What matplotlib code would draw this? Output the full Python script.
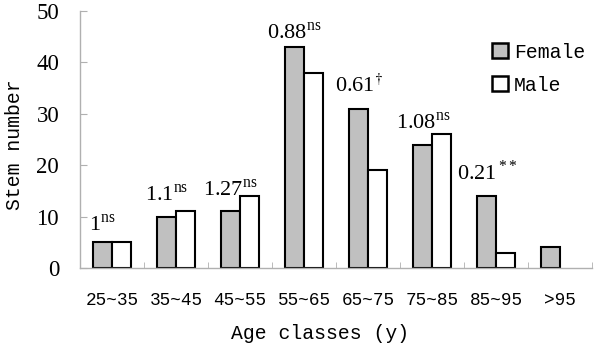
import matplotlib
matplotlib.use("Agg")
import matplotlib.pyplot as plt
import numpy as np

categories = ["25~35", "35~45", "45~55", "55~65", "65~75", "75~85", "85~95", ">95"]
female = [5, 10, 11, 43, 31, 24, 14, 4]
male = [5, 11, 14, 38, 19, 26, 3, 0]
ratio_labels = ["1", "1.1", "1.27", "0.88", "0.61", "1.08", "0.21"]
ratio_sig = ["ns", "ns", "ns", "ns", "\u2020", "ns", "**"]
label_y = [7.4, 13.2, 14.2, 44.7, 34.2, 27.2, 17.1]

mono = "Liberation Mono"
serif = "Liberation Serif"

fig = plt.figure(figsize=(6.0, 3.44), dpi=100)
ax = fig.add_axes([0.1333, 0.221, 0.8534, 0.747])

x = np.arange(len(categories))
w = 0.29
ax.bar(x - w / 2, female, w, color="#c0c0c0", edgecolor="black", linewidth=1.5, label="Female")
male_x = [xi + w / 2 for xi, m in zip(x, male) if m > 0]
male_v = [m for m in male if m > 0]
ax.bar(male_x, male_v, w, color="white", edgecolor="black", linewidth=1.5, label="Male")

ax.set_xlim(-0.5, len(categories) - 0.5)
ax.set_ylim(0, 50)
ax.set_yticks([0, 10, 20, 30, 40, 50])
ax.set_xticks(x)
ax.set_xticklabels(categories, fontfamily=mono, fontsize=12.8)
ax.set_xticks(np.arange(-0.5, len(categories) + 0.5, 1), minor=True)
ax.tick_params(axis="x", which="major", length=0, pad=17)
ax.tick_params(axis="x", which="minor", direction="in", length=4, color="#b0b0b0")
ax.tick_params(axis="y", direction="in", length=5, color="#b0b0b0", pad=15,
               labelfontfamily=serif, labelsize=16.5)

for s in ["top", "right"]:
    ax.spines[s].set_visible(False)
for s in ["left", "bottom"]:
    ax.spines[s].set_color("#b0b0b0")
    ax.spines[s].set_linewidth(1.0)

ax.set_xlabel("Age classes (y)", fontfamily=mono, fontsize=14.2)
ax.set_ylabel("Stem number", fontfamily=mono, fontsize=14.2, labelpad=9)
ax.xaxis.set_label_coords(0.469, -0.218)
ax.yaxis.label.set_y(0.479)

for i, (t, s, yy) in enumerate(zip(ratio_labels, ratio_sig, label_y)):
    if s == "**":
        txt = r"$\mathregular{" + t + r"}^{\,\mathregular{**}}$"
    elif s == "\u2020":
        txt = r"$\mathregular{" + t + r"}^{\dagger}$"
    else:
        txt = r"$\mathregular{" + t + r"}^{\mathregular{ns}}$"
    ax.text(x[i] - w / 2, yy, txt, ha="center", va="baseline",
            fontfamily=serif, fontsize=16, math_fontfamily="stix")

leg = ax.legend(loc="upper left", bbox_to_anchor=(0.778, 0.93), frameon=False,
                prop={"family": mono, "size": 14.2}, handlelength=0.8, handleheight=0.8,
                handletextpad=0.3, labelspacing=0.7, borderaxespad=0.3)
for h in leg.legend_handles:
    h.set_linewidth(1.8)

fig.savefig("out.png", dpi=100)
